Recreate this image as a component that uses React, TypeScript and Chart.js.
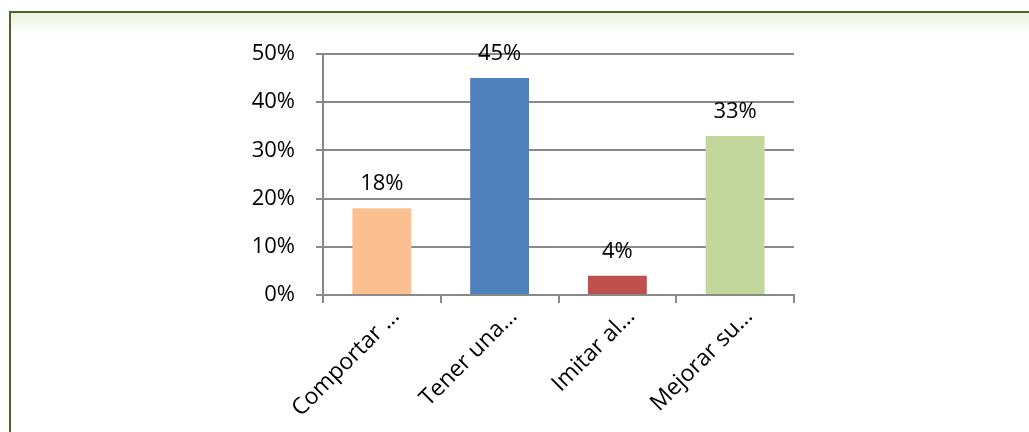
import React, { useEffect, useRef } from "react";
import { Chart, registerables } from "chart.js";

Chart.register(...registerables);

const categories = ["Comportar …", "Tener una…", "Imitar al…", "Mejorar su…"];
const values = [18, 45, 4, 33];
const barColors = ["#FAC090", "#4F81BD", "#C0504D", "#C3D69B"];
const yTicks = [0, 10, 20, 30, 40, 50];

const FONT = "'Open Sans', 'Liberation Sans', sans-serif";
const GRID = "#898989";

const labelPlugin = {
  id: "valueLabels",
  afterDatasetsDraw(chart: any) {
    const ctx = chart.ctx;
    const meta = chart.getDatasetMeta(0);
    ctx.save();
    ctx.font = `22px ${FONT}`;
    ctx.fillStyle = "#000";
    ctx.textAlign = "center";
    ctx.textBaseline = "alphabetic";
    meta.data.forEach((bar: any, i: number) => {
      ctx.fillText(values[i] + "%", bar.x, bar.y - 18);
    });
    ctx.restore();
  },
};

export default function App() {
  const ref = useRef<HTMLCanvasElement>(null);
  useEffect(() => {
    if (!ref.current) return;
    const chart = new Chart(ref.current, {
      type: "bar",
      data: {
        labels: categories,
        datasets: [
          {
            data: values,
            backgroundColor: barColors,
            borderWidth: 0,
            categoryPercentage: 1,
            barPercentage: 0.5,
          },
        ],
      },
      options: {
        responsive: false,
        animation: false,
        layout: { padding: { left: 0, right: 235, top: 54, bottom: 0 } },
        plugins: { legend: { display: false }, tooltip: { enabled: false } },
        scales: {
          x: {
            grid: {
              offset: true,
              drawOnChartArea: false,
              drawTicks: true,
              tickLength: 8,
              color: GRID,
              lineWidth: 2,
            },
            border: { color: GRID, width: 2 },
            ticks: {
              color: "#000",
              font: { family: FONT, size: 23 },
              minRotation: 45,
              maxRotation: 45,
              padding: 0,
              labelOffset: 14,
              autoSkip: false,
            },
            afterFit: (s: any) => {
              s.height = 137;
            },
          },
          y: {
            min: 0,
            max: 50,
            afterBuildTicks: (s: any) => {
              s.ticks = yTicks.map((v) => ({ value: v }));
            },
            grid: { color: GRID, lineWidth: 2, tickLength: 7, drawTicks: true },
            border: { color: GRID, width: 2 },
            ticks: {
              color: "#000",
              font: { family: FONT, size: 22 },
              padding: 21,
              callback: (v: any) => v + "%",
            },
            afterFit: (s: any) => {
              s.width = 323;
            },
          },
        },
      },
      plugins: [labelPlugin],
    });
    return () => chart.destroy();
  }, []);

  return (
    <div style={{ position: "fixed", left: 0, top: 0, width: 1029, height: 432, background: "#fff", overflow: "hidden" }}>
      <div
        style={{
          position: "absolute",
          left: 9,
          top: 11,
          right: -10,
          bottom: -10,
          borderLeft: "2px solid #4F6228",
          borderTop: "2px solid #4F6228",
          background: "linear-gradient(to bottom, #EBF1DE 0px, #F3F6EC 8px, #FFFFFF 22px)",
        }}
      />
      <canvas ref={ref} width={1029} height={432} style={{ position: "absolute", left: 0, top: 0 }} />
    </div>
  );
}
